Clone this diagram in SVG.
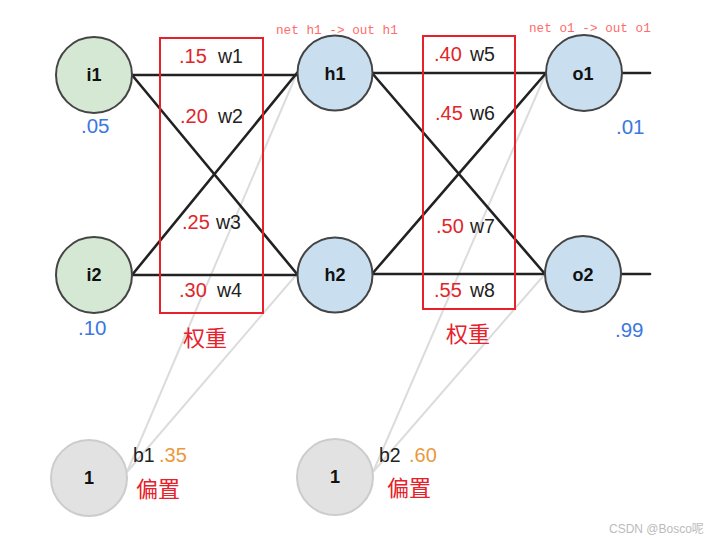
<svg xmlns="http://www.w3.org/2000/svg" width="716" height="541" viewBox="0 0 716 541">
<style>
.edge{stroke:#222;stroke-width:2.6;fill:none;stroke-linecap:round}
.bias{stroke:#dcdcdc;stroke-width:2;fill:none}
.in{fill:#d5e8d4;stroke:#444;stroke-width:2}
.hid{fill:#c9dff0;stroke:#444;stroke-width:2}
.bn{fill:#e2e2e2;stroke:#cccccc;stroke-width:2}
.lbl{font-family:"Liberation Sans",Arial,sans-serif;font-weight:bold;font-size:18px;fill:#111;text-anchor:middle}
.val{font-family:"Liberation Sans",Arial,sans-serif;font-size:20.5px;fill:#3b78e0}
.wv{font-family:"Liberation Sans",Arial,sans-serif;font-size:20px;fill:#e0262a}
.wn{font-family:"Liberation Sans",Arial,sans-serif;font-size:19.5px;fill:#222}
.bv{font-family:"Liberation Sans",Arial,sans-serif;font-size:20px;fill:#e89a3c}
.cn{font-family:"Liberation Sans","Noto Sans CJK SC",sans-serif;font-size:22px;fill:#e8202a}
.mono{font-family:"Liberation Mono",monospace;font-size:12.7px;fill:#ff6b6b}
.box{fill:none;stroke:#e8202a;stroke-width:2}
</style>
<rect width="716" height="541" fill="#fff"/>
<g id="connectors">
<line class="bias" x1="127" y1="472" x2="297" y2="73"/>
<line class="bias" x1="127" y1="472" x2="297" y2="274"/>
<line class="bias" x1="373" y1="472" x2="546" y2="73"/>
<line class="bias" x1="373" y1="472" x2="545" y2="274"/>
<line class="edge" x1="132" y1="75" x2="297" y2="75"/>
<line class="edge" x1="132" y1="75" x2="297" y2="274"/>
<line class="edge" x1="132" y1="275" x2="297" y2="73"/>
<line class="edge" x1="132" y1="275" x2="297" y2="275"/>
<line class="edge" x1="372" y1="73" x2="546" y2="73"/>
<line class="edge" x1="372" y1="73" x2="545" y2="274"/>
<line class="edge" x1="372" y1="274" x2="546" y2="73"/>
<line class="edge" x1="372" y1="274" x2="545" y2="274"/>
<line class="edge" x1="622" y1="73" x2="650" y2="73"/>
<line class="edge" x1="621" y1="274" x2="650" y2="274"/>
</g>
<rect class="box" x="160" y="38" width="103" height="275"/>
<rect class="box" x="423" y="36" width="92" height="273"/>
<g id="i1"><circle class="in" cx="94" cy="75" r="38"/><text class="lbl" x="94" y="81">i1</text><text class="val" x="81" y="133">.05</text></g>
<g id="i2"><circle class="in" cx="94" cy="275" r="38"/><text class="lbl" x="94" y="281">i2</text><text class="val" x="78" y="335">.10</text></g>
<g id="h1"><circle class="hid" cx="335" cy="73" r="37.5"/><text class="lbl" x="335" y="80">h1</text></g>
<g id="h2"><circle class="hid" cx="335" cy="275" r="37.5"/><text class="lbl" x="335" y="281">h2</text></g>
<g id="o1"><circle class="hid" cx="584" cy="73" r="38"/><text class="lbl" x="583" y="80">o1</text><text class="val" x="616" y="134">.01</text></g>
<g id="o2"><circle class="hid" cx="583" cy="274" r="38"/><text class="lbl" x="583" y="281">o2</text><text class="val" x="615" y="337">.99</text></g>
<g id="b1"><circle class="bn" cx="89" cy="478" r="38"/><text class="lbl" x="89" y="484">1</text></g>
<g id="b2"><circle class="bn" cx="335" cy="477" r="38"/><text class="lbl" x="335" y="483">1</text></g>
<g id="labels">
<text class="wv" x="179" y="63">.15</text><text class="wn" x="218" y="63">w1</text>
<text class="wv" x="180" y="123">.20</text><text class="wn" x="218" y="123">w2</text>
<text class="wv" x="182" y="229">.25</text><text class="wn" x="216" y="229">w3</text>
<text class="wv" x="179" y="297">.30</text><text class="wn" x="217" y="297">w4</text>
<text class="wv" x="434" y="61">.40</text><text class="wn" x="470" y="61">w5</text>
<text class="wv" x="435" y="120">.45</text><text class="wn" x="470" y="120">w6</text>
<text class="wv" x="436" y="233">.50</text><text class="wn" x="470" y="233">w7</text>
<text class="wv" x="434" y="297">.55</text><text class="wn" x="470" y="297">w8</text>
<text class="cn" x="183" y="346">权重</text>
<text class="cn" x="446" y="342">权重</text>
<text class="wn" x="133" y="462">b1</text><text class="bv" x="159" y="462">.35</text>
<text class="wn" x="379" y="462">b2</text><text class="bv" x="409" y="462">.60</text>
<text class="cn" x="136" y="497">偏置</text>
<text class="cn" x="387" y="496">偏置</text>
<text class="mono" x="276" y="34">net h1 -&gt; out h1</text>
<text class="mono" x="529" y="32">net o1 -&gt; out o1</text>
<text x="609" y="533" style="font-family:'Liberation Sans','Noto Sans CJK SC',sans-serif;font-size:12px;fill:#bbb">CSDN @Bosco呢</text>
</g>
</svg>
